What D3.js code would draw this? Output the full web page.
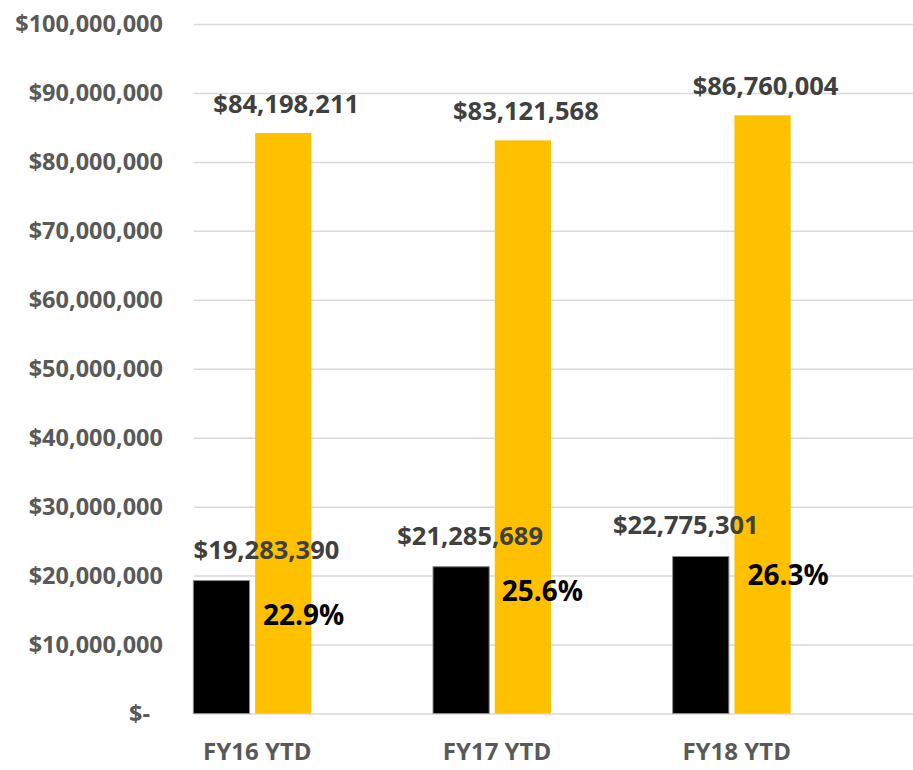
<!DOCTYPE html>
<html>
<head>
<meta charset="utf-8">
<script src="https://cdn.jsdelivr.net/npm/d3@7"></script>
<style>
    body { margin: 0; background: #fff; }
    text { font-family: "Open Sans", sans-serif; font-weight: 700; }
</style>
</head>
<body>
<div id="chart"></div>
<script>

// data
let categories = ["FY16 YTD", "FY17 YTD", "FY18 YTD"];
let blackValues = [19283390, 21285689, 22775301];
let goldValues = [84198211, 83121568, 86760004];
let pctLabels = ["22.9%", "25.6%", "26.3%"];
let yTicks = [0, 10e6, 20e6, 30e6, 40e6, 50e6, 60e6, 70e6, 80e6, 90e6, 100e6];

// manual label nudges (as placed in the original)
let blackLabelDx = [45, 9, -15];
let pctDx = [8, 7, 13];
let pctDy = [44, 34, 29];

let width = 913, height = 770;

let svg = d3.select("#chart").append("svg")
    .attr("width", width)
    .attr("height", height);

// scales
let x = d3.scaleBand()
    .domain(categories)
    .range([132.5, 851.5]);

let xInner = d3.scaleBand()
    .domain(["black", "gold"])
    .range([-59, 59])
    .paddingInner(0.09);

let y = d3.scaleLinear()
    .domain([0, 100e6])
    .range([713.5, 24]);

// y axis + gridlines
let yAxis = d3.axisLeft(y)
    .tickValues(yTicks)
    .tickSizeInner(-(width - 194))
    .tickSizeOuter(0)
    .tickPadding(31)
    .tickFormat(d => d === 0 ? "$-" : "$" + d3.format(",")(d));

let gy = svg.append("g")
    .attr("class", "y-axis")
    .attr("transform", "translate(194,0)")
    .call(yAxis);

gy.select(".domain").remove();
gy.selectAll(".tick line")
    .attr("stroke", "#d9d9d9")
    .attr("stroke-width", 1.5);
gy.selectAll(".tick text")
    .attr("fill", "#595959")
    .attr("font-size", "23.5px")
    .attr("dx", d => d === 0 ? -13 : 0);

// bars
let groups = svg.selectAll(".group")
    .data(categories)
    .enter().append("g")
    .attr("class", "group")
    .attr("transform", d => `translate(${x(d) + x.bandwidth() / 2},0)`);

groups.append("rect")
    .attr("x", xInner("black"))
    .attr("y", (d, i) => y(blackValues[i]))
    .attr("width", xInner.bandwidth())
    .attr("height", (d, i) => y(0) - y(blackValues[i]))
    .attr("fill", "#000")
    .attr("stroke", "#8c8c8c")
    .attr("stroke-width", 1);

groups.append("rect")
    .attr("x", xInner("gold"))
    .attr("y", (d, i) => y(goldValues[i]))
    .attr("width", xInner.bandwidth())
    .attr("height", (d, i) => y(0) - y(goldValues[i]))
    .attr("fill", "#ffc000");

// value labels
groups.append("text")
    .attr("x", (d, i) => xInner("black") + xInner.bandwidth() / 2 + blackLabelDx[i])
    .attr("y", (d, i) => y(blackValues[i]) - 22)
    .attr("text-anchor", "middle")
    .attr("fill", "#404040")
    .attr("font-size", "25.5px")
    .text((d, i) => "$" + d3.format(",")(blackValues[i]));

groups.append("text")
    .attr("x", xInner("gold") + xInner.bandwidth() / 2 + 3)
    .attr("y", (d, i) => y(goldValues[i]) - 20)
    .attr("text-anchor", "middle")
    .attr("fill", "#404040")
    .attr("font-size", "25.5px")
    .text((d, i) => "$" + d3.format(",")(goldValues[i]));

// percent labels
groups.append("text")
    .attr("x", (d, i) => xInner("gold") + pctDx[i])
    .attr("y", (d, i) => y(blackValues[i]) + pctDy[i])
    .attr("fill", "#000")
    .attr("font-size", "28px")
    .text((d, i) => pctLabels[i]);

// category labels
groups.append("text")
    .attr("x", 5)
    .attr("y", 760)
    .attr("text-anchor", "middle")
    .attr("fill", "#595959")
    .attr("font-size", "24px")
    .text(d => d);

</script>
</body>
</html>
